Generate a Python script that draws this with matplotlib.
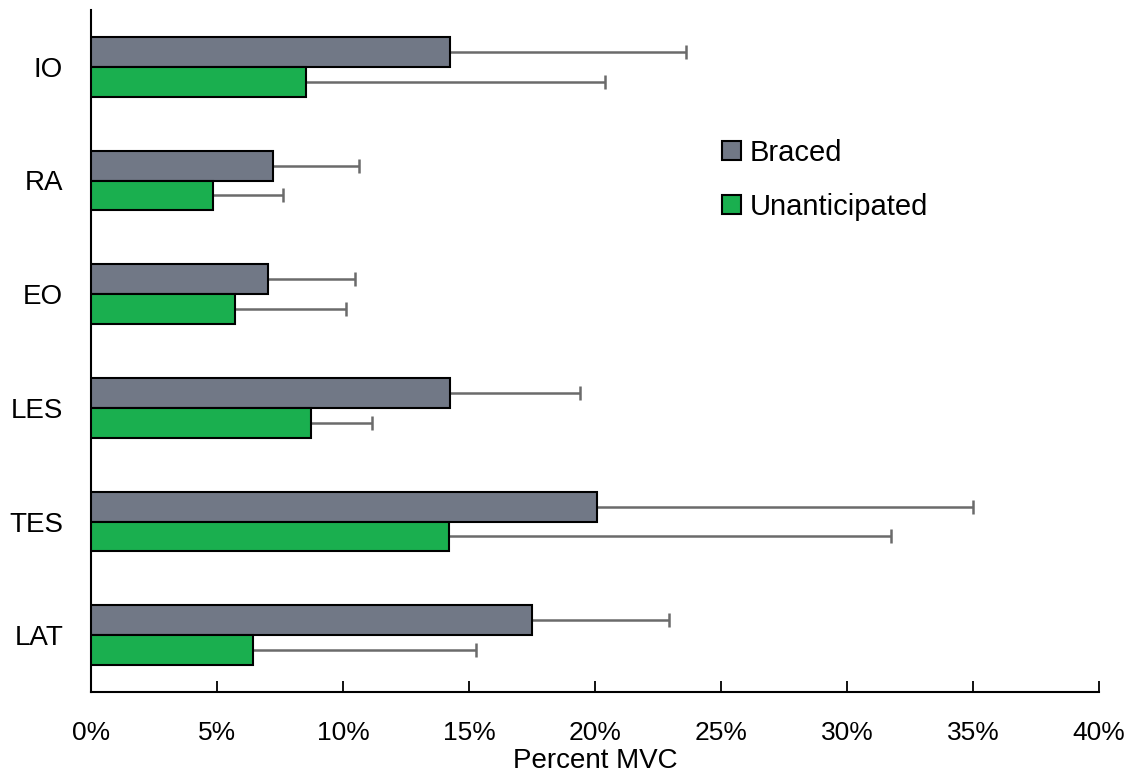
import matplotlib.pyplot as plt
import numpy as np
from matplotlib.ticker import PercentFormatter

muscles = ["IO", "RA", "EO", "LES", "TES", "LAT"]

# mean % MVC and upper bound of the error bar for each condition
braced = [14.26, 7.21, 7.02, 14.23, 20.09, 17.51]
braced_upper = [23.61, 10.65, 10.46, 19.42, 35.0, 22.95]
unanticipated = [8.55, 4.85, 5.70, 8.72, 14.20, 6.43]
unanticipated_upper = [20.41, 7.60, 10.13, 11.15, 31.75, 15.27]

plt.rcParams["font.family"] = ["Liberation Sans", "DejaVu Sans"]

fig = plt.figure(figsize=(11.34, 7.76), dpi=100)
ax = fig.add_axes([91 / 1134, 84 / 776, 1008 / 1134, 682 / 776])

y = np.arange(len(muscles))[::-1].astype(float)
h = 0.263

series = [
    (braced, braced_upper, y + h / 2, "#717886", "Braced"),
    (unanticipated, unanticipated_upper, y - h / 2, "#1aaf4f", "Unanticipated"),
]

for means, upper, ypos, color, label in series:
    ax.barh(ypos, means, height=h, color=color, edgecolor="black",
            linewidth=1.5, label=label, zorder=3)
    # one-sided error bar: line from the bar end to the upper bound, capped
    ax.hlines(ypos, means, upper, color="#6b6b6b", linewidth=1.8, zorder=2)
    ax.plot(upper, ypos, linestyle="none", marker="|", markersize=10,
            markeredgewidth=1.8, color="#6b6b6b", zorder=2)

ax.set_xlim(0, 40)
ax.set_ylim(-0.5, len(muscles) - 0.5)
ax.set_xticks(np.arange(0, 41, 5))
ax.xaxis.set_major_formatter(PercentFormatter(decimals=0))
ax.set_yticks(y)
ax.set_yticklabels(muscles)

ax.tick_params(axis="x", direction="in", length=8, width=1.3, pad=21,
               labelsize=19)
ax.tick_params(axis="y", length=0, pad=20, labelsize=20)
ax.set_xlabel("Percent MVC", fontsize=20, labelpad=2)

for side in ("top", "right"):
    ax.spines[side].set_visible(False)
for side in ("left", "bottom"):
    ax.spines[side].set_linewidth(1.5)

ax.legend(loc="upper left", bbox_to_anchor=(0.6, 0.85), frameon=False,
          fontsize=21, handlelength=0.65, handleheight=0.65,
          handletextpad=0.3, labelspacing=0.9)

fig.savefig("out.png", dpi=100)
